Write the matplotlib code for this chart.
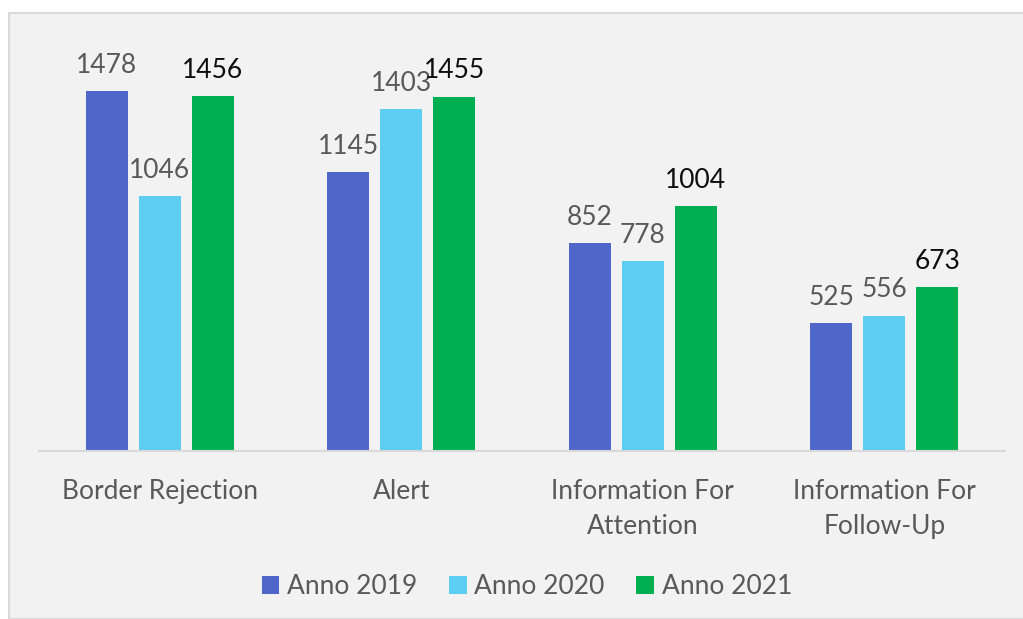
import matplotlib
matplotlib.use("Agg")
import matplotlib.pyplot as plt
from matplotlib.patches import Rectangle
import numpy as np

categories = ["Border Rejection", "Alert", "Information For\nAttention", "Information For\nFollow-Up"]
series_names = ["Anno 2019", "Anno 2020", "Anno 2021"]
values_2019 = [1478, 1145, 852, 525]
values_2020 = [1046, 1403, 778, 556]
values_2021 = [1456, 1455, 1004, 673]
colors = ["#4f67c8", "#5ecdf2", "#00b050"]
label_colors = ["#595959", "#595959", "#0d0d0d"]

plt.rcParams['font.family'] = ['Lato', 'DejaVu Sans']

fig = plt.figure(figsize=(10.23, 6.19), dpi=100, facecolor="white")
W, H = 1023, 619
# background panel
fig.patches.append(Rectangle((9 / W, 0), 1.2, (619 - 13) / H, transform=fig.transFigure,
                             facecolor="#f2f2f2", edgecolor="#d9d9d9", linewidth=1.5, zorder=-5))

ax = fig.add_axes([39 / W, 1 - 451 / H, (1005 - 39) / W, (451 - 61.2) / H])
ax.set_facecolor("none")
ax.set_zorder(2)
x = np.arange(len(categories))
width = 0.174
step = 0.219
allvals = [values_2019, values_2020, values_2021]
bars = []
for i, (vals, c, lc) in enumerate(zip(allvals, colors, label_colors)):
    b = ax.bar(x + (i - 1) * step, vals, width, color=c, label=series_names[i], zorder=2)
    bars.append(b)
    for xi, v in zip(x + (i - 1) * step, vals):
        ax.annotate(str(v), (xi, v), xytext=(0, 13), textcoords="offset points",
                    ha="center", va="baseline", fontsize=19, color=lc)

ax.set_xlim(-0.5, 3.5)
ax.set_ylim(0, 1600)
ax.set_yticks([])
ax.set_xticks(x)
ax.set_xticklabels(categories, fontsize=19, color="#595959", linespacing=1.52)
ax.tick_params(axis="x", length=0, pad=20)
for s in ["top", "right", "left"]:
    ax.spines[s].set_visible(False)
ax.spines["bottom"].set_color("#d9d9d9")
ax.spines["bottom"].set_linewidth(1.5)

leg = fig.legend(handles=bars, labels=series_names, loc="center", bbox_to_anchor=(527 / W, 1 - 587 / H),
                 ncol=3, frameon=False, fontsize=19, handlelength=0.66, handleheight=0.66,
                 handletextpad=0.3, columnspacing=1.2, labelcolor="#595959")
leg.set_zorder(3)

fig.savefig("out.png", dpi=100, facecolor="white")
